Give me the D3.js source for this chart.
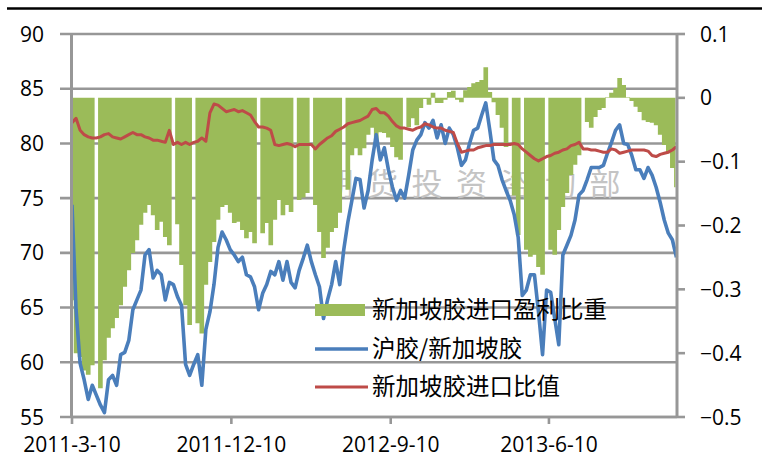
<!DOCTYPE html>
<html><head><meta charset="utf-8">
<script src="https://cdn.jsdelivr.net/npm/d3@7"></script>
<style>body{margin:0;background:#fff}svg{display:block}</style>
</head><body>
<svg id="c" width="762" height="457"></svg>
<script>
// ---- data (weekly samples starting 2011-3-10) ----
const startDate = "2011-03-10";
const stepDays = 7;
const xTickLabels = ["2011-3-10", "2011-12-10", "2012-9-10", "2013-6-10"];
const leftTicks = [55, 60, 65, 70, 75, 80, 85, 90];
const rightTicks = [-0.5, -0.4, -0.3, -0.2, -0.1, 0, 0.1];
const seriesNames = ["新加坡胶进口盈利比重", "沪胶/新加坡胶", "新加坡胶进口比值"];

const profitShare = [-0.317,-0.400,-0.406,-0.427,-0.434,-0.419,null,-0.455,-0.411,-0.376,
-0.361,-0.345,-0.325,-0.296,-0.270,-0.243,-0.223,-0.199,-0.180,-0.168,
-0.184,-0.207,-0.194,-0.218,-0.231,null,-0.198,-0.262,-0.325,-0.356,
null,-0.353,-0.369,-0.293,-0.257,-0.226,-0.191,-0.171,-0.168,-0.180,
-0.196,-0.194,-0.207,-0.220,-0.210,-0.228,null,-0.212,-0.196,-0.231,
-0.191,-0.160,-0.184,-0.168,-0.179,null,-0.160,-0.156,-0.149,null,
-0.168,-0.210,-0.251,-0.235,-0.210,-0.204,-0.180,null,-0.144,-0.090,
-0.079,-0.090,-0.079,-0.058,-0.047,-0.066,-0.054,-0.055,-0.062,-0.077,
-0.093,-0.097,null,-0.046,-0.032,-0.043,-0.016,-0.002,-0.011,0.008,
-0.008,-0.008,-0.003,0.009,0.011,-0.003,-0.007,0.012,0.017,0.023,
0.025,0.028,0.048,0.009,-0.007,-0.027,-0.047,-0.077,null,-0.153,
-0.215,null,-0.238,-0.249,-0.246,-0.265,-0.277,null,-0.238,-0.246,
-0.207,-0.171,-0.149,-0.121,-0.105,-0.090,null,-0.038,-0.047,-0.030,
-0.019,-0.016,0.001,0.008,0.015,0.031,0.020,0.001,-0.005,-0.014,
-0.022,-0.035,-0.038,-0.039,-0.043,-0.058,-0.074,-0.087,-0.110,-0.140];

const shfeSgx = [74.4,64.8,59.9,58.4,56.6,57.9,57.0,56.1,55.4,58.4,
58.8,57.9,60.7,60.9,62.0,64.8,65.7,66.6,69.8,70.3,
67.7,68.4,68.0,65.7,67.3,67.1,66.0,65.2,59.8,58.8,
59.8,60.7,57.9,63.0,64.6,67.1,70.5,71.9,71.2,70.3,
69.8,69.2,69.6,68.0,67.8,66.9,64.8,66.3,67.1,68.3,
68.0,69.2,67.5,69.2,67.3,66.8,68.4,69.5,70.7,69.2,
68.0,66.9,64.0,65.7,67.1,69.2,67.1,70.3,72.8,74.8,
76.8,76.7,74.1,75.7,78.5,80.8,78.5,79.6,77.6,76.0,
74.8,75.7,75.0,77.1,79.4,80.3,80.8,81.9,81.4,82.1,
80.5,81.7,80.0,81.4,80.8,79.6,78.0,78.5,80.0,81.2,
81.4,82.6,83.7,81.2,78.5,78.0,76.7,75.7,74.8,73.5,
71.4,66.1,66.6,68.0,68.0,64.6,60.7,66.6,66.4,64.0,
61.6,69.8,70.7,71.6,73.0,75.3,75.7,76.7,77.8,77.8,
77.8,78.0,79.1,80.1,81.2,81.7,80.0,79.9,78.9,77.6,
77.6,76.8,77.8,77.1,76.0,74.6,73.0,71.8,71.2,69.6];

const importRatio = [81.9,82.3,81.2,80.8,80.6,80.5,80.5,80.6,80.8,80.9,
80.6,80.5,80.4,80.6,80.8,81.0,80.8,80.8,80.6,80.5,
80.3,80.3,80.2,80.1,81.2,79.9,80.1,79.9,80.1,79.9,
80.1,80.2,80.5,80.2,82.8,83.6,83.5,83.2,82.9,83.0,
83.1,82.9,83.0,82.8,82.6,82.0,81.5,81.5,81.4,81.2,
79.9,79.8,79.9,80.0,79.9,79.7,79.9,79.9,79.9,79.9,
79.5,79.9,80.2,80.5,80.7,81.1,81.3,81.5,81.8,81.9,
82.0,82.1,82.3,82.5,83.1,83.2,82.8,82.8,82.5,82.0,
81.6,81.4,81.4,81.3,81.2,81.4,81.5,81.8,81.7,81.5,
81.4,81.4,81.2,81.1,81.0,80.0,79.2,79.3,79.4,79.4,
79.6,79.7,79.8,79.8,79.9,79.9,79.9,79.9,79.9,80.0,
79.9,79.5,79.2,78.9,78.6,78.4,78.6,78.8,78.9,79.1,
79.2,79.4,79.5,79.8,79.9,80.1,79.5,79.5,79.4,79.4,
79.3,79.2,79.2,79.5,79.4,79.1,79.2,79.3,79.4,79.4,
79.4,79.4,79.3,78.9,78.8,79.0,79.1,79.2,79.4,79.7];

const watermarkChars = ["期","货","投","资","咨","询","部"];

// ---- build ----
const parse = d3.timeParse("%Y-%m-%d");
const parseTick = d3.timeParse("%Y-%-m-%-d");
const t0 = parse(startDate);
const dates = profitShare.map((_, i) => d3.timeDay.offset(t0, i * stepDays));

const L = 71.5, R = 677, T = 34, B = 417;
const svg = d3.select("#c");
const x = d3.scaleTime().domain([t0, d3.timeDay.offset(t0, 1044)]).range([72, R]);
const yL = d3.scaleLinear().domain([55, 90]).range([B, T]);
const yR = d3.scaleLinear().domain([-0.5, 0.1]).range([B, T]);
const gridColor = "#979797";
const numFont = "'Open Sans', 'Liberation Sans', sans-serif";
const cjkFont = "'Noto Sans CJK SC', sans-serif";

// top rule
svg.append("line").attr("x1", 7).attr("x2", 762).attr("y1", 8.5).attr("y2", 8.5)
  .attr("stroke", "#000").attr("stroke-width", 2.6);

// gridlines + left ticks
svg.append("g").selectAll("line").data(leftTicks).join("line")
  .attr("x1", 60).attr("x2", R).attr("y1", d => yL(d)).attr("y2", d => yL(d))
  .attr("stroke", gridColor).attr("stroke-width", 2.6);

// watermark
svg.append("g").selectAll("text").data(watermarkChars).join("text")
  .attr("x", (d, i) => 338 + i * 44.5).attr("y", 195)
  .attr("text-anchor", "middle").attr("font-family", cjkFont).attr("font-size", 31)
  .attr("fill", "#c4c4c4").text(d => d);

// bars: one path (union of all bar rectangles) to avoid seams
svg.append("clipPath").attr("id", "plot").append("rect")
  .attr("x", 73).attr("y", 0).attr("width", R - 73 - 1.5).attr("height", 457);
const bw = x(dates[1]) - x(dates[0]);
const barPath = d3.path();
profitShare.forEach((v, i) => {
  if (v === null) return;
  const xc = x(dates[i]);
  const y0 = yR(0), y1 = yR(v);
  barPath.rect(xc - bw / 2 - 0.3, Math.min(y0, y1), bw + 0.6, Math.abs(y1 - y0));
});
svg.append("path").attr("clip-path", "url(#plot)").attr("d", barPath.toString())
  .attr("fill", "#9BBB59").attr("fill-rule", "nonzero");

// lines
const lineL = d3.line().x((v, i) => x(dates[i])).y(v => yL(v));
svg.append("path").datum(shfeSgx).attr("d", lineL).attr("fill", "none")
  .attr("stroke", "#4A7EBB").attr("stroke-width", 3.6).attr("stroke-linejoin", "round");
svg.append("path").datum(importRatio).attr("d", lineL).attr("fill", "none")
  .attr("stroke", "#BE4B48").attr("stroke-width", 3).attr("stroke-linejoin", "round");

// axes lines
svg.append("line").attr("x1", L).attr("x2", L).attr("y1", T).attr("y2", B + 1)
  .attr("stroke", gridColor).attr("stroke-width", 3);
svg.append("line").attr("x1", R).attr("x2", R).attr("y1", T - 1).attr("y2", B + 1)
  .attr("stroke", gridColor).attr("stroke-width", 3);
svg.append("line").attr("x1", L).attr("x2", R).attr("y1", B).attr("y2", B)
  .attr("stroke", gridColor).attr("stroke-width", 2.6);

// left labels
svg.append("g").selectAll("text").data(leftTicks).join("text")
  .attr("x", 44).attr("y", d => yL(d)).attr("dy", "0.36em").attr("text-anchor", "end")
  .attr("font-family", numFont).attr("font-size", 21).attr("fill", "#000").text(d => d);

// right ticks + labels
svg.append("g").selectAll("line").data(rightTicks).join("line")
  .attr("x1", R).attr("x2", 685).attr("y1", d => yR(d)).attr("y2", d => yR(d))
  .attr("stroke", gridColor).attr("stroke-width", 2.6);
svg.append("g").selectAll("text").data(rightTicks).join("text")
  .attr("x", 700).attr("y", d => yR(d)).attr("dy", "0.36em")
  .attr("font-family", numFont).attr("font-size", 21).attr("fill", "#000")
  .text(d => d3.format("")(Math.round(d * 10) / 10));

// bottom ticks + labels
const xt = xTickLabels.map(s => parseTick(s));
svg.append("g").selectAll("line").data(xt).join("line")
  .attr("x1", d => x(d)).attr("x2", d => x(d)).attr("y1", B).attr("y2", 424)
  .attr("stroke", gridColor).attr("stroke-width", 2.6);
svg.append("g").selectAll("text").data(xt).join("text")
  .attr("x", d => x(d)).attr("y", 452).attr("text-anchor", "middle")
  .attr("font-family", numFont).attr("font-size", 21).attr("fill", "#000")
  .text((d, i) => xTickLabels[i]);

// legend
const lg = svg.append("g");
const rows = [310, 349, 387];
lg.append("rect").attr("x", 315).attr("y", rows[0] - 6).attr("width", 50).attr("height", 12).attr("fill", "#9BBB59");
lg.append("line").attr("x1", 315).attr("x2", 368).attr("y1", rows[1]).attr("y2", rows[1])
  .attr("stroke", "#4A7EBB").attr("stroke-width", 3.6);
lg.append("line").attr("x1", 315).attr("x2", 368).attr("y1", rows[2]).attr("y2", rows[2])
  .attr("stroke", "#BE4B48").attr("stroke-width", 3);
lg.selectAll("text").data(seriesNames).join("text")
  .attr("x", 372).attr("y", (d, i) => rows[i]).attr("dy", "0.36em")
  .attr("font-family", cjkFont).attr("font-size", 23.5).attr("fill", "#000").text(d => d);
</script>
</body></html>
